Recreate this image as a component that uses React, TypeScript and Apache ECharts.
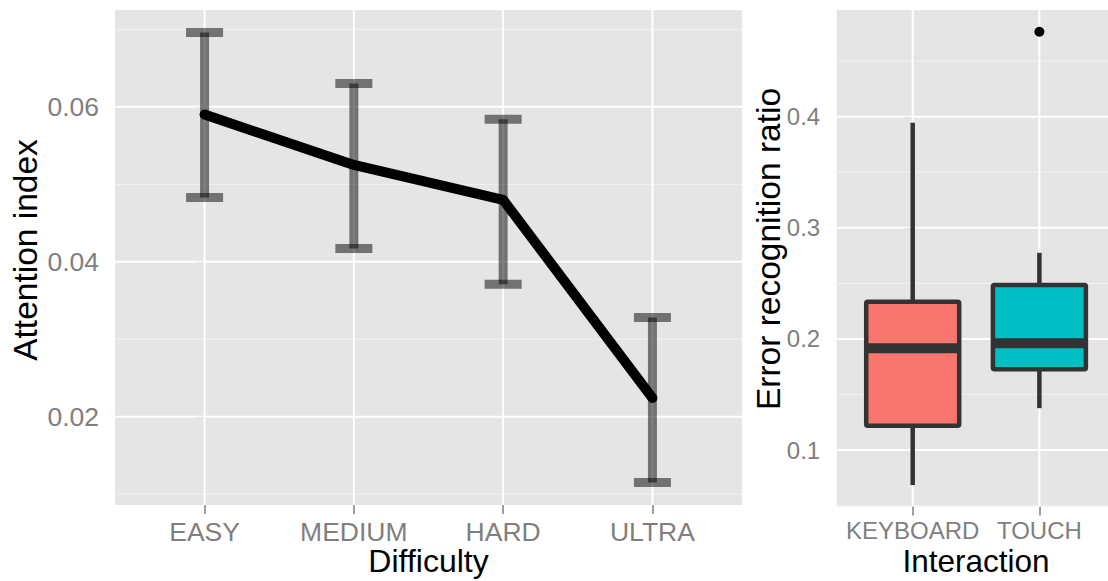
import React, { useEffect, useRef } from "react";
import * as echarts from "echarts";

// ---- Left panel data ----
const difficulty = ["EASY", "MEDIUM", "HARD", "ULTRA"];
const attentionMean = [0.059, 0.0525, 0.048, 0.0224];
const attentionLow = [0.0483, 0.0417, 0.0371, 0.0115];
const attentionHigh = [0.0696, 0.063, 0.0584, 0.0328];
const attentionTicks = [0.02, 0.04, 0.06];
const attentionMinor = [0.01, 0.03, 0.05, 0.07];

// ---- Right panel data ----
const interaction = ["KEYBOARD", "TOUCH"];
const boxLow = [0.0685, 0.1377];
const boxQ1 = [0.1219, 0.1727];
const boxMedian = [0.1916, 0.1961];
const boxQ3 = [0.2335, 0.2486];
const boxHigh = [0.3946, 0.2775];
const boxColors = ["#F8766D", "#00BFC4"];
const outliers = [[1, 0.4764]];
const errorTicks = [0.1, 0.2, 0.3, 0.4];
const errorMinor = [0.05, 0.15, 0.25, 0.35, 0.45];

const FONT = "'Liberation Sans', Arial, Helvetica, sans-serif";
const GREY = "#7F7F7F";

function gridRender(orient: "h" | "v") {
  return (params: any, api: any) => {
    const cs = params.coordSys;
    const kind = api.value(2);
    const style =
      kind === 0
        ? { stroke: "#FFFFFF", lineWidth: 2 }
        : { stroke: "#F2F2F2", lineWidth: 1 };
    const p = api.coord([api.value(0), api.value(1)]);
    if (orient === "h") {
      return {
        type: "line",
        shape: { x1: cs.x, y1: p[1], x2: cs.x + cs.width, y2: p[1] },
        style,
      };
    }
    return {
      type: "line",
      shape: { x1: p[0], y1: cs.y, x2: p[0], y2: cs.y + cs.height },
      style,
    };
  };
}

export default function App() {
  const ref = useRef<HTMLDivElement>(null);

  useEffect(() => {
    if (!ref.current) return;
    const chart = echarts.init(ref.current, undefined, { renderer: "svg" });

    const tickStyle = { length: 9, lineStyle: { color: GREY, width: 1.5 } };

    const option: any = {
      animation: false,
      backgroundColor: "#FFFFFF",
      grid: [
        {
          left: 115,
          top: 10,
          width: 627,
          height: 495,
          show: true,
          backgroundColor: "#E5E5E5",
          borderWidth: 0,
          containLabel: false,
        },
        {
          left: 836.7,
          top: 10,
          width: 278.7,
          height: 496.5,
          show: true,
          backgroundColor: "#E5E5E5",
          borderWidth: 0,
          containLabel: false,
        },
      ],
      xAxis: [
        {
          gridIndex: 0,
          type: "value",
          min: -0.6,
          max: 3.6,
          axisLine: { show: false },
          splitLine: { show: false },
          axisTick: { show: true, customValues: [0, 1, 2, 3], ...tickStyle },
          axisLabel: {
            customValues: [0, 1, 2, 3],
            formatter: (v: number) => difficulty[Math.round(v)] ?? "",
            color: GREY,
            fontSize: 26.5,
            fontFamily: FONT,
            margin: 13,
          },
        },
        {
          gridIndex: 1,
          type: "value",
          min: -0.6,
          max: 1.6,
          axisLine: { show: false },
          splitLine: { show: false },
          axisTick: { show: true, customValues: [0, 1], ...tickStyle },
          axisLabel: {
            customValues: [0, 1],
            formatter: (v: number) => interaction[Math.round(v)] ?? "",
            color: GREY,
            fontSize: 24,
            fontFamily: FONT,
            margin: 12,
          },
        },
      ],
      yAxis: [
        {
          gridIndex: 0,
          type: "value",
          min: 0.0086,
          max: 0.0725,
          axisLine: { show: false },
          splitLine: { show: false },
          axisTick: { show: true, customValues: attentionTicks, ...tickStyle },
          axisLabel: {
            customValues: attentionTicks,
            formatter: (v: number) => v.toFixed(2),
            color: GREY,
            fontSize: 26.5,
            fontFamily: FONT,
            margin: 16,
          },
        },
        {
          gridIndex: 1,
          type: "value",
          min: 0.0492,
          max: 0.496,
          axisLine: { show: false },
          splitLine: { show: false },
          axisTick: { show: true, customValues: errorTicks, ...tickStyle },
          axisLabel: {
            customValues: errorTicks,
            formatter: (v: number) => v.toFixed(1),
            color: GREY,
            fontSize: 24,
            fontFamily: FONT,
            margin: 16.5,
          },
        },
      ],
      series: [
        // left gridlines
        {
          type: "custom",
          xAxisIndex: 0,
          yAxisIndex: 0,
          z: 1,
          silent: true,
          renderItem: gridRender("h"),
          data: [
            ...attentionMinor.map((v) => [0, v, 1]),
            ...attentionTicks.map((v) => [0, v, 0]),
          ],
        },
        {
          type: "custom",
          xAxisIndex: 0,
          yAxisIndex: 0,
          z: 1,
          silent: true,
          renderItem: gridRender("v"),
          data: difficulty.map((_, i) => [i, 0.04, 0]),
        },
        // right gridlines
        {
          type: "custom",
          xAxisIndex: 1,
          yAxisIndex: 1,
          z: 1,
          silent: true,
          renderItem: gridRender("h"),
          data: [
            ...errorMinor.map((v) => [0, v, 1]),
            ...errorTicks.map((v) => [0, v, 0]),
          ],
        },
        {
          type: "custom",
          xAxisIndex: 1,
          yAxisIndex: 1,
          z: 1,
          silent: true,
          renderItem: gridRender("v"),
          data: interaction.map((_, i) => [i, 0.2, 0]),
        },
        // error bars
        {
          type: "custom",
          xAxisIndex: 0,
          yAxisIndex: 0,
          z: 3,
          encode: { x: 0, y: [1, 2] },
          renderItem: (params: any, api: any) => {
            const i = api.value(0);
            const lo = api.coord([i, api.value(1)]);
            const hi = api.coord([i, api.value(2)]);
            const half = api.size([0.124, 0])[0];
            const st = { stroke: "rgba(0,0,0,0.5)", lineWidth: 9, lineCap: "butt" };
            return {
              type: "group",
              children: [
                { type: "line", shape: { x1: lo[0], y1: hi[1], x2: lo[0], y2: lo[1] }, style: st },
                { type: "line", shape: { x1: hi[0] - half, y1: hi[1], x2: hi[0] + half, y2: hi[1] }, style: st },
                { type: "line", shape: { x1: lo[0] - half, y1: lo[1], x2: lo[0] + half, y2: lo[1] }, style: st },
              ],
            };
          },
          data: attentionLow.map((lo, i) => [i, lo, attentionHigh[i]]),
        },
        // mean line
        {
          type: "line",
          xAxisIndex: 0,
          yAxisIndex: 0,
          z: 4,
          symbol: "none",
          lineStyle: { color: "#000000", width: 10, cap: "round", join: "round" },
          data: attentionMean.map((v, i) => [i, v]),
        },
        // boxplots
        {
          type: "custom",
          xAxisIndex: 1,
          yAxisIndex: 1,
          z: 3,
          encode: { x: 0, y: [1, 2, 3, 4, 5] },
          renderItem: (params: any, api: any) => {
            const i = api.value(0);
            const xc = api.coord([i, api.value(3)])[0];
            const yLow = api.coord([i, api.value(1)])[1];
            const yQ1 = api.coord([i, api.value(2)])[1];
            const yMed = api.coord([i, api.value(3)])[1];
            const yQ3 = api.coord([i, api.value(4)])[1];
            const yHigh = api.coord([i, api.value(5)])[1];
            const hw = api.size([0.367, 0])[0];
            const line = { stroke: "#333333", lineWidth: 4.5 };
            return {
              type: "group",
              children: [
                { type: "line", shape: { x1: xc, y1: yQ3, x2: xc, y2: yHigh }, style: line },
                { type: "line", shape: { x1: xc, y1: yQ1, x2: xc, y2: yLow }, style: line },
                {
                  type: "rect",
                  shape: { x: xc - hw, y: yQ3, width: 2 * hw, height: yQ1 - yQ3, r: 1.5 },
                  style: { fill: boxColors[params.dataIndex], stroke: "#333333", lineWidth: 4.5 },
                },
                {
                  type: "line",
                  shape: { x1: xc - hw, y1: yMed, x2: xc + hw, y2: yMed },
                  style: { stroke: "#333333", lineWidth: 10, lineCap: "butt" },
                },
              ],
            };
          },
          data: interaction.map((_, i) => [i, boxLow[i], boxQ1[i], boxMedian[i], boxQ3[i], boxHigh[i]]),
        },
        // outliers
        {
          type: "scatter",
          xAxisIndex: 1,
          yAxisIndex: 1,
          z: 5,
          symbolSize: 10,
          itemStyle: { color: "#000000", opacity: 1 },
          data: outliers,
        },
      ],
      graphic: [
        {
          type: "text",
          x: 428.5,
          y: 561,
          style: {
            text: "Difficulty",
            font: `32px ${FONT}`,
            fill: "#000000",
            align: "center",
            verticalAlign: "middle",
          },
        },
        {
          type: "text",
          x: 976,
          y: 561,
          style: {
            text: "Interaction",
            font: `31.5px ${FONT}`,
            fill: "#000000",
            align: "center",
            verticalAlign: "middle",
          },
        },
        {
          type: "text",
          x: 25.5,
          y: 250,
          rotation: Math.PI / 2,
          style: {
            text: "Attention index",
            font: `33.5px ${FONT}`,
            fill: "#000000",
            align: "center",
            verticalAlign: "middle",
          },
        },
        {
          type: "text",
          x: 768.5,
          y: 249,
          rotation: Math.PI / 2,
          style: {
            text: "Error recognition ratio",
            font: `33.5px ${FONT}`,
            fill: "#000000",
            align: "center",
            verticalAlign: "middle",
          },
        },
      ],
    };

    chart.setOption(option);
    return () => chart.dispose();
  }, []);

  return (
    <div
      style={{
        position: "fixed",
        left: 0,
        top: 0,
        width: 1108,
        height: 581,
        overflow: "hidden",
        background: "#FFFFFF",
      }}
    >
      <div ref={ref} style={{ width: 1120, height: 581 }} />
    </div>
  );
}
